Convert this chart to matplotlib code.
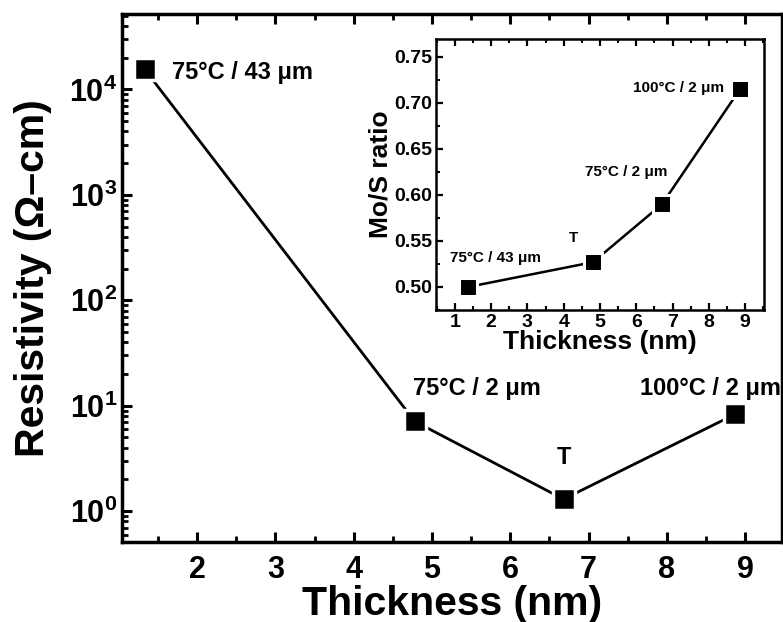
import matplotlib
matplotlib.use("Agg")
import matplotlib.pyplot as plt
from matplotlib.ticker import MultipleLocator, LogLocator, NullFormatter

plt.rcParams['font.family'] = ['Liberation Sans', 'DejaVu Sans']
plt.rcParams['font.weight'] = 'bold'
plt.rcParams['mathtext.fontset'] = 'custom'
plt.rcParams['mathtext.rm'] = 'Liberation Sans:bold'
plt.rcParams['mathtext.bf'] = 'Liberation Sans:bold'

# main panel: resistivity vs thickness
thickness = [1.33, 4.78, 6.68, 8.87]
resistivity = [15500, 7.1, 1.3, 8.3]
main_labels = ['75°C / 43 μm', '75°C / 2 μm', 'T', '100°C / 2 μm']

# inset: Mo/S ratio vs thickness
inset_thickness = [1.36, 4.81, 6.71, 8.86]
mos_ratio = [0.500, 0.527, 0.590, 0.715]
inset_labels = ['75°C / 43 μm', 'T', '75°C / 2 μm', '100°C / 2 μm']

xticks = [2, 3, 4, 5, 6, 7, 8, 9]
yticks = [1, 10, 100, 1000, 10000]
ytick_labels = ['$10^{0}$', '$10^{1}$', '$10^{2}$', '$10^{3}$', '$10^{4}$']
inset_xticks = [1, 2, 3, 4, 5, 6, 7, 8, 9]
inset_yticks = [0.50, 0.55, 0.60, 0.65, 0.70, 0.75]

fig = plt.figure(figsize=(7.83, 6.22), dpi=100)
ax = fig.add_axes([0.1558, 0.1286, 0.8429, 0.8489])

# line first, then squares with a thin white rim so the line stops short of them
ax.plot(thickness, resistivity, color='black', lw=2.0, zorder=2)
ax.plot(thickness, resistivity, ls='none', marker='s', ms=16, mfc='black',
        mec='white', mew=2.5, zorder=3)
ax.set_yscale('log')
ax.set_xlim(1.04, 9.47)
ax.set_ylim(0.51, 5.2e4)
ax.set_xticks(xticks)
ax.xaxis.set_minor_locator(MultipleLocator(0.5))
ax.set_yticks(yticks)
ax.set_yticklabels(ytick_labels)
ax.yaxis.set_minor_locator(LogLocator(base=10, subs=range(2, 10), numticks=20))
ax.yaxis.set_minor_formatter(NullFormatter())
ax.tick_params(which='both', direction='in', top=True, right=False, labelsize=22)
ax.tick_params(which='major', length=7, width=2.2)
ax.tick_params(which='minor', length=4, width=2)
ax.tick_params(axis='x', pad=9)
for sp in ax.spines.values():
    sp.set_linewidth(2.5)
    sp.set_zorder(5)

ax.set_xlabel('Thickness (nm)', fontsize=29.5, fontweight='bold', labelpad=0)
ax.set_ylabel('Resistivity (Ω–cm)', fontsize=29.5, fontweight='bold', labelpad=12)

ax.text(1.68, 14500, main_labels[0], fontsize=17, fontweight='bold', va='center', ha='left')
ax.text(4.76, 14.7, main_labels[1], fontsize=17, fontweight='bold', va='center', ha='left')
ax.text(6.68, 3.25, main_labels[2], fontsize=17, fontweight='bold', va='center', ha='center')
ax.text(7.66, 14.7, main_labels[3], fontsize=17, fontweight='bold', va='center', ha='left')

# inset
ins = fig.add_axes([0.5568, 0.5016, 0.4189, 0.4357])
ins.plot(inset_thickness, mos_ratio, color='black', lw=1.8, zorder=2)
ins.plot(inset_thickness, mos_ratio, ls='none', marker='s', ms=13.5, mfc='black',
         mec='white', mew=2.2, zorder=3)
ins.set_xlim(0.48, 9.52)
ins.set_ylim(0.475, 0.7695)
ins.set_xticks(inset_xticks)
ins.set_yticks(inset_yticks)
ins.set_yticklabels(['%.2f' % v for v in inset_yticks])
ins.xaxis.set_minor_locator(MultipleLocator(0.5))
ins.yaxis.set_minor_locator(MultipleLocator(0.025))
ins.tick_params(which='both', direction='in', top=True, right=False, labelsize=14)
ins.tick_params(which='major', length=5, width=1.6, pad=3)
ins.tick_params(which='minor', length=3, width=1.5)
for sp in ins.spines.values():
    sp.set_linewidth(1.8)
    sp.set_zorder(5)
ins.set_xlabel('Thickness (nm)', fontsize=19, fontweight='bold', labelpad=-1)
ins.set_ylabel('Mo/S ratio', fontsize=19, fontweight='bold', labelpad=1)

ins.text(0.86, 0.531, inset_labels[0], fontsize=11, va='center', ha='left')
ins.text(4.28, 0.553, inset_labels[1], fontsize=11, va='center', ha='center')
ins.text(4.59, 0.625, inset_labels[2], fontsize=11, va='center', ha='left')
ins.text(5.91, 0.716, inset_labels[3], fontsize=11, va='center', ha='left')

fig.savefig('out.png', dpi=100)
